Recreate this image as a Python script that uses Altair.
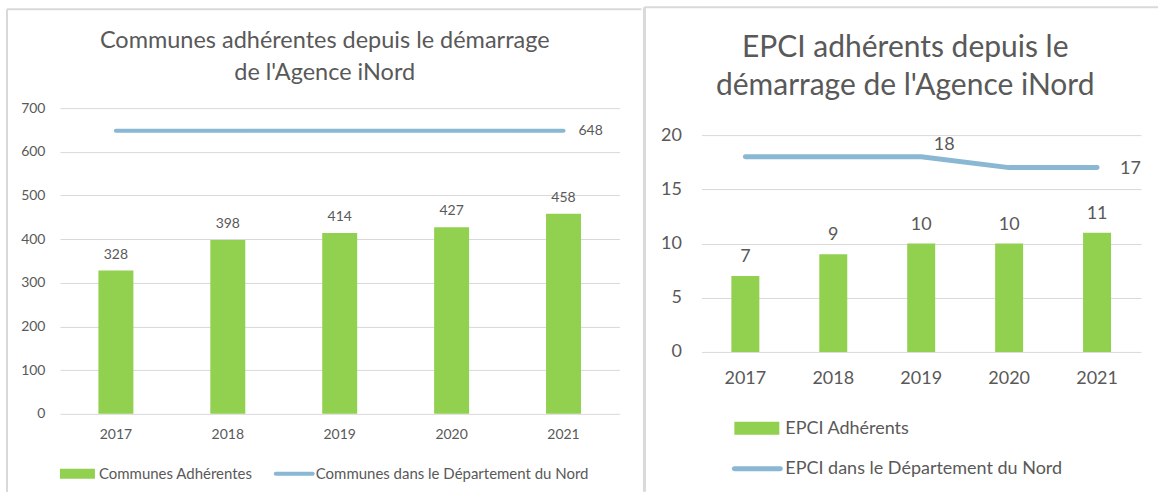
import altair as alt
import pandas as pd

# ---------------- data ----------------
years = ["2017", "2018", "2019", "2020", "2021"]
communes_adherentes = [328, 398, 414, 427, 458]
communes_nord = [648, 648, 648, 648, 648]
epci_adherents = [7, 9, 10, 10, 11]
epci_nord = [18, 18, 18, 17, 17]

left_title = "Communes adhérentes depuis le démarrage\nde l'Agence iNord"
right_title = "EPCI adhérents depuis le\ndémarrage de l'Agence iNord"
left_series = ["Communes Adhérentes", "Communes dans le Département du Nord"]
right_series = ["EPCI Adhérents", "EPCI dans le Département du Nord"]
left_ticks = [0, 100, 200, 300, 400, 500, 600, 700]
right_ticks = [0, 5, 10, 15, 20]

# ---------------- style ----------------
FONT = "Lato"
TXT = "#595959"
GREEN = "#92D050"
BLUE = "#89B7D4"
GRID = "#D9D9D9"
BORDER = "#D9D9D9"


def x_enc(fs, pad):
    return alt.X(
        "year:N", sort=years, title=None,
        scale=alt.Scale(paddingInner=0, paddingOuter=0),
        axis=alt.Axis(labelAngle=0, domain=False, ticks=False, grid=False,
                      labelFont=FONT, labelFontSize=fs, labelColor=TXT,
                      labelPadding=pad),
    )


def y_enc(field, dom, vals, fs, pad, rng=None):
    sc = alt.Scale(domain=dom, range=rng) if rng else alt.Scale(domain=dom)
    return alt.Y(
        field, title=None, scale=sc,
        axis=alt.Axis(values=vals, domain=False, ticks=False, grid=True,
                      gridColor=GRID, gridWidth=1, labelFont=FONT,
                      labelFontSize=fs, labelColor=TXT, labelPadding=pad),
    )


def one(text):
    return pd.DataFrame({"label": [text]})


def hrule(x1, x2, y, w=2):
    return alt.Chart(one("")).mark_rule(color=BORDER, strokeWidth=w).encode(
        x=alt.value(x1), x2=alt.value(x2), y=alt.value(y))


def vrule(x, y1, y2, w=2):
    return alt.Chart(one("")).mark_rule(color=BORDER, strokeWidth=w).encode(
        x=alt.value(x), y=alt.value(y1), y2=alt.value(y2))


def title_text(text, x, y, fs, lh):
    return alt.Chart(one(text)).mark_text(
        align="center", baseline="alphabetic", font=FONT, fontSize=fs,
        color=TXT, lineBreak="\n", lineHeight=lh
    ).encode(text="label:N", x=alt.value(x), y=alt.value(y))


def legend_text(text, x, y, fs):
    return alt.Chart(one(text)).mark_text(
        align="left", baseline="middle", font=FONT, fontSize=fs, color=TXT
    ).encode(text="label:N", x=alt.value(x), y=alt.value(y))


def legend_swatch(x1, x2, y1, y2):
    return alt.Chart(one("")).mark_rect(color=GREEN).encode(
        x=alt.value(x1), x2=alt.value(x2), y=alt.value(y1), y2=alt.value(y2))


def legend_line(x1, x2, y, w):
    return alt.Chart(one("")).mark_rule(color=BLUE, strokeWidth=w, strokeCap="round").encode(
        x=alt.value(x1), x2=alt.value(x2), y=alt.value(y))


# ---------------- left panel ----------------
WL, HL = 560, 306
df_c = pd.DataFrame({"year": years, "adh": communes_adherentes, "nord": communes_nord})

barsL = alt.Chart(df_c).mark_bar(size=35, color=GREEN).encode(
    x=x_enc(14, 14), y=y_enc("adh:Q", [0, 700], left_ticks, 14, 15))
bar_lblL = alt.Chart(df_c).mark_text(
    dy=-12, baseline="alphabetic", font=FONT, fontSize=14, color=TXT
).encode(x=alt.X("year:N", sort=years, title=None), y=alt.Y("adh:Q", title=None), text="adh:Q")
lineL = alt.Chart(df_c).mark_line(color=BLUE, strokeWidth=4, strokeCap="round").encode(
    x=alt.X("year:N", sort=years, title=None), y=alt.Y("nord:Q", title=None))
line_lblL = alt.Chart(df_c).transform_filter(alt.datum.year == "2021").mark_text(
    align="left", baseline="middle", dx=15, font=FONT, fontSize=14, color=TXT
).encode(x=alt.X("year:N", sort=years, title=None), y=alt.Y("nord:Q", title=None), text="nord:Q")

left = alt.layer(
    hrule(-53, 582, -99), vrule(-53, -99, 386),
    title_text(left_title, 265, -60, 23.5, 32),
    barsL, bar_lblL, lineL, line_lblL,
    legend_swatch(0, 35, 361, 371), legend_text(left_series[0], 39, 366, 15),
    legend_line(216, 253, 366, 4), legend_text(left_series[1], 256, 366, 15),
).properties(width=WL, height=HL)

# ---------------- right panel ----------------
# plot origin shares the left panel's top; the y range starts 27 px lower
WR, HR, OFF = 440, 244, 27
df_e = pd.DataFrame({"year": years, "adh": epci_adherents, "nord": epci_nord})

barsR = alt.Chart(df_e).mark_bar(size=28, color=GREEN).encode(
    x=x_enc(18, 18), y=y_enc("adh:Q", [0, 20], right_ticks, 18, 20, [HR, OFF]))
bar_lblR = alt.Chart(df_e).mark_text(
    dy=-14, baseline="alphabetic", font=FONT, fontSize=18, color=TXT
).encode(x=alt.X("year:N", sort=years, title=None), y=alt.Y("adh:Q", title=None), text="adh:Q")
lineR = alt.Chart(df_e).mark_line(color=BLUE, strokeWidth=5, strokeCap="round").encode(
    x=alt.X("year:N", sort=years, title=None), y=alt.Y("nord:Q", title=None))
lbl18 = alt.Chart(df_e).transform_filter(alt.datum.year == "2019").mark_text(
    align="center", baseline="middle", dx=23, dy=-12, font=FONT, fontSize=18, color=TXT
).encode(x=alt.X("year:N", sort=years, title=None), y=alt.Y("nord:Q", title=None), text="nord:Q")
lbl17 = alt.Chart(df_e).transform_filter(alt.datum.year == "2021").mark_text(
    align="left", baseline="middle", dx=23, dy=1, font=FONT, fontSize=18, color=TXT
).encode(x=alt.X("year:N", sort=years, title=None), y=alt.Y("nord:Q", title=None), text="nord:Q")

right = alt.layer(
    hrule(-57, 457, -128 + OFF), vrule(-57, -128 + OFF, 357 + OFF, 3),
    title_text(right_title, 204, -78 + OFF, 30, 38),
    barsR, bar_lblR, lineR, lbl18, lbl17,
    legend_swatch(33, 78, 287 + OFF, 300 + OFF), legend_text(right_series[0], 84, 294 + OFF, 18),
    legend_line(33, 79, 334 + OFF, 5), legend_text(right_series[1], 84, 334 + OFF, 18),
).properties(width=WR, height=HR)

chart = alt.hconcat(left, right, spacing=0).properties(
    padding={"left": 6, "top": 5, "right": 0, "bottom": 0},
    background="white",
).configure_view(stroke=None)

chart.save("out.html", embed_options={"renderer": "svg", "actions": False})
